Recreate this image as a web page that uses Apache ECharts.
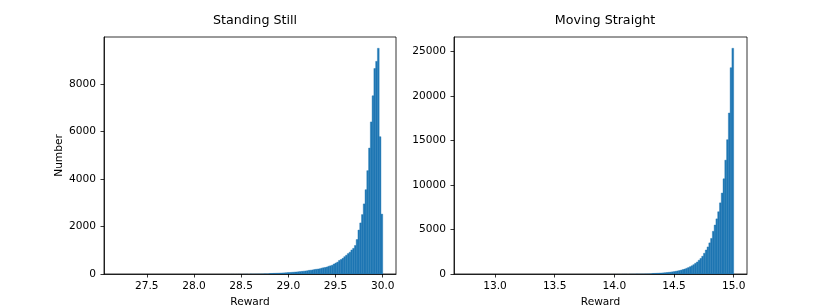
<!DOCTYPE html>
<html><head><meta charset="utf-8">
<script src="https://cdn.jsdelivr.net/npm/echarts@6/dist/echarts.min.js"></script>
<style>html,body{margin:0;padding:0;background:#fff}#c{width:830px;height:308px}</style>
</head><body><div id="c"></div><script>
const titles = ['Standing Still', 'Moving Straight'];
const xAxisName = 'Reward';
const yAxisName = 'Number';

// histogram bin range (first edge, last edge) and counts per bin
const standRange = [27.1875, 30.0];
const standCounts = [
  1,0,0,0,0,0,0,0,0,0, 0,0,0,0,0,0,0,0,0,0, 0,0,0,0,0,1,0,0,0,0, 0,0,0,0,0,0,0,0,1,0, 0,0,0,0,0,0,1,0,0,0,
  1,0,0,1,0,0,1,1,0,1, 1,2,1,1,2,2,2,2,3,3, 3,4,4,5,5,6,7,8,9,10, 11,12,14,16,18,20,22,24,27,30,
  33,36,40,44,48,53,58,63,69,75, 82,88,95,102,112,120,128,138,155,163, 172,190,200,210,220,245,262,275,295,325,
  345,370,420,460,500,570,610,660,730,790, 860,920,1010,1080,1200,1450,1850,2150,2500,2950,
  3550,4350,5300,6400,7500,8650,8950,9500,5780,2520
];
const moveRange = [12.768, 15.0];
const moveCounts = [
  1,0,0,0,0,0,0,0,0,0, 0,0,0,0,0,0,0,0,0,0, 0,0,0,0,0,0,0,0,0,0, 0,0,0,0,0,0,1,0,0,0, 0,0,0,0,0,0,0,0,0,0,
  0,1,0,0,0,0,0,0,1,0, 0,0,0,0,0,
  1,0,1,0,1,1,1,1,1,1, 2,2,2,2,3,3,3,4,4,5, 5,6,7,8,9,10,11,12,14,16, 18,21,24,27,31,35,40,46,53,60,
  68,78,88,100,112,128,145,165,185,210, 240,270,305,345,390,440,500,560,640,720,
  820,920,1050,1200,1350,1550,1750,2000,2330,2700, 3050,3500,4000,4800,5500,6200,7000,8000,9100,10700,
  12800,15100,18100,23200,25380
];
const standXTicks = [27.5, 28.0, 28.5, 29.0, 29.5, 30.0];
const moveXTicks = [13.0, 13.5, 14.0, 14.5, 15.0];
const standYTicks = [0, 2000, 4000, 6000, 8000];
const moveYTicks = [0, 5000, 10000, 15000, 20000, 25000];

function binData(range, counts) {
  const w = (range[1] - range[0]) / counts.length;
  return counts.map((c, i) => [range[0] + i * w, range[0] + (i + 1) * w, c]);
}
function renderItem(params, api) {
  const p0 = api.coord([api.value(0), api.value(2)]);
  const p1 = api.coord([api.value(1), 0]);
  const h = p1[1] - p0[1];
  return { type: 'rect', shape: { x: p0[0], y: p0[1], width: p1[0] - p0[0], height: h },
           style: { fill: '#1f77b4', stroke: '#1f77b4', lineWidth: h > 0.5 ? 0.4 : 0 } };
}
const font = 'DejaVu Sans';
const fs = 10.6;
const tickStyle = { show: true, inside: false, length: 3.5, lineStyle: { color: '#000', width: 0.8 } };
function xAxis(idx, range, ticks) {
  const span = range[1] - range[0];
  return {
    type: 'value', gridIndex: idx, min: range[0] - 0.05 * span, max: range[1] + 0.05 * span,
    name: xAxisName, nameLocation: 'middle', nameGap: 20,
    nameTextStyle: { fontFamily: font, fontSize: fs, color: '#000' },
    axisLine: { show: true, onZero: false, lineStyle: { color: '#000', width: 0.8 } },
    axisTick: Object.assign({ customValues: ticks }, tickStyle),
    axisLabel: { customValues: ticks, formatter: v => v.toFixed(1), fontFamily: font, fontSize: fs, color: '#000', margin: 7 },
    splitLine: { show: false }
  };
}
function yAxis(idx, counts, ticks, named) {
  return {
    type: 'value', gridIndex: idx, min: 0, max: Math.max(...counts) * 1.05,
    name: named ? yAxisName : '', nameLocation: 'middle', nameGap: 39,
    nameTextStyle: { fontFamily: font, fontSize: fs, color: '#000' },
    axisLine: { show: true, lineStyle: { color: '#000', width: 0.8 } },
    axisTick: Object.assign({ customValues: ticks }, tickStyle),
    axisLabel: { customValues: ticks, formatter: v => String(v), fontFamily: font, fontSize: fs, color: '#000', margin: 8 },
    splitLine: { show: false }
  };
}
const chart = echarts.init(document.getElementById('c'), null, { renderer: 'canvas' });
chart.setOption({
  animation: false,
  backgroundColor: '#fff',
  title: [
    { text: titles[0], left: 250, top: 9, textAlign: 'center', textStyle: { fontFamily: font, fontSize: 12.7, fontWeight: 'normal', color: '#000' } },
    { text: titles[1], left: 600, top: 9, textAlign: 'center', textStyle: { fontFamily: font, fontSize: 12.7, fontWeight: 'normal', color: '#000' } }
  ],
  grid: [
    { left: 104, right: 434, top: 37, bottom: 34, show: true, borderColor: '#000', borderWidth: 0.8, backgroundColor: 'transparent', containLabel: false, outerBoundsMode: 'none' },
    { left: 454, right: 83, top: 37, bottom: 34, show: true, borderColor: '#000', borderWidth: 0.8, backgroundColor: 'transparent', containLabel: false, outerBoundsMode: 'none' }
  ],
  xAxis: [xAxis(0, standRange, standXTicks), xAxis(1, moveRange, moveXTicks)],
  yAxis: [yAxis(0, standCounts, standYTicks, true), yAxis(1, moveCounts, moveYTicks, false)],
  series: [
    { type: 'custom', xAxisIndex: 0, yAxisIndex: 0, renderItem, encode: { x: [0, 1], y: 2 }, data: binData(standRange, standCounts), clip: true },
    { type: 'custom', xAxisIndex: 1, yAxisIndex: 1, renderItem, encode: { x: [0, 1], y: 2 }, data: binData(moveRange, moveCounts), clip: true }
  ]
});
</script></body></html>
